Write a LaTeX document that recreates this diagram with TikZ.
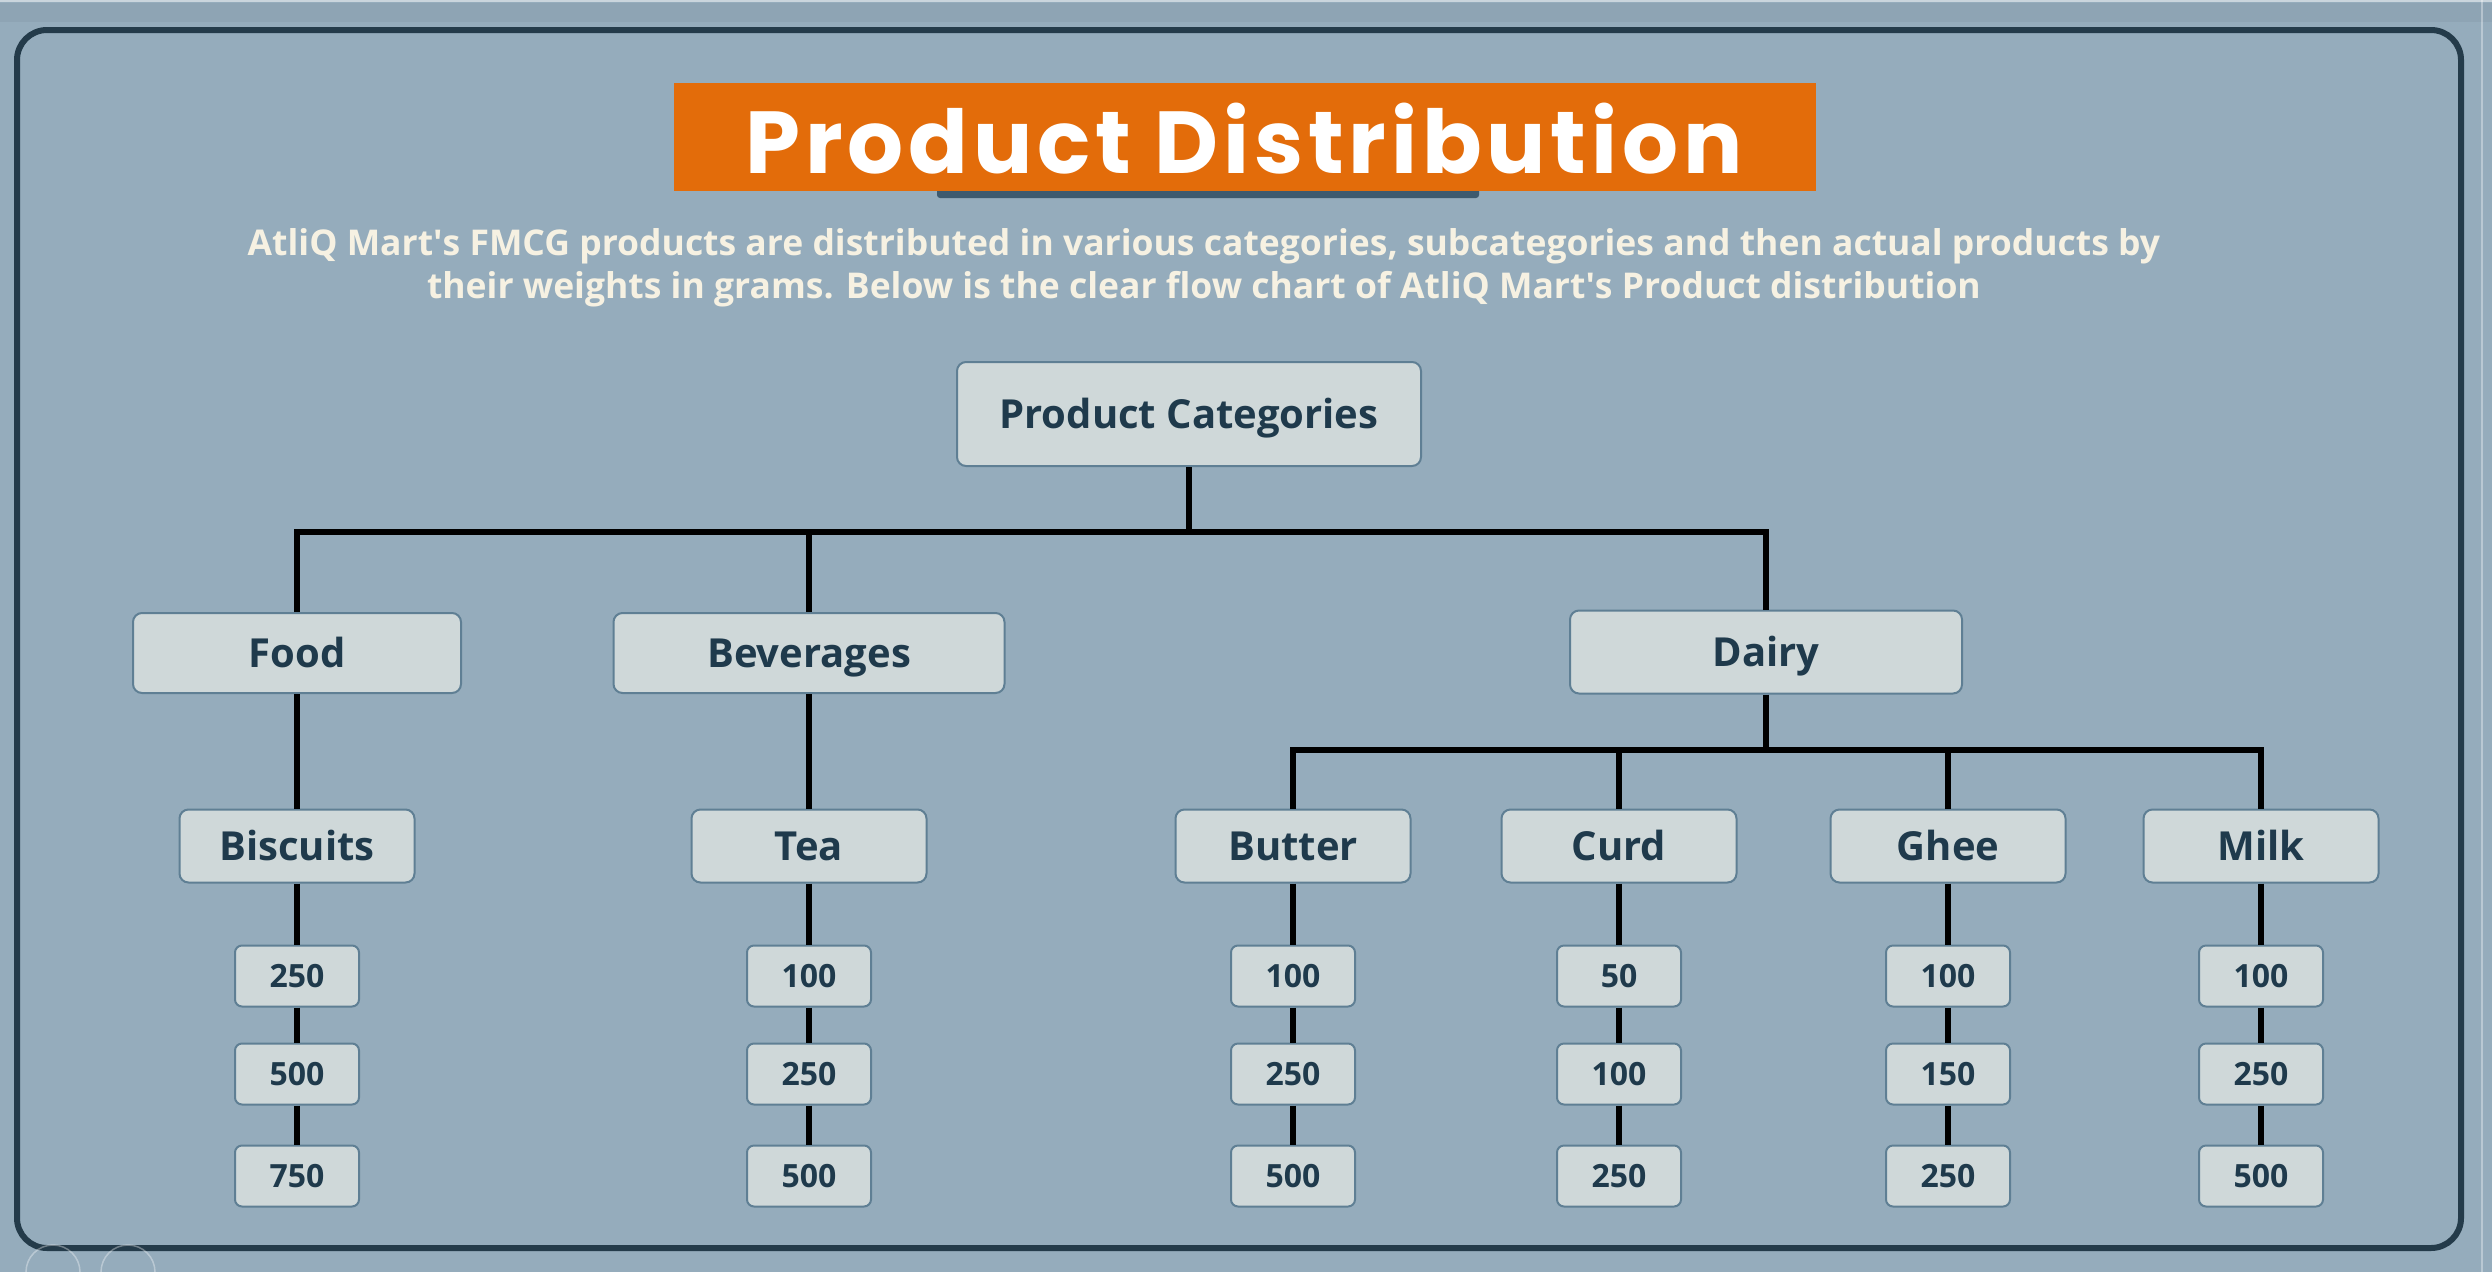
\documentclass[tikz,border=0pt]{standalone}
\usepackage{fontspec}
\setmainfont{Open Sans}
\newfontfamily\titlefont{Poppins}[LetterSpace=5.5]
\definecolor{bg}{HTML}{95ACBC}
\definecolor{frame}{HTML}{243B4A}
\definecolor{orange}{HTML}{E36C0A}
\definecolor{boxfill}{HTML}{CFD8D9}
\definecolor{boxedge}{HTML}{5F7F94}
\definecolor{textdark}{HTML}{1F3A4C}
\definecolor{cream}{HTML}{F6F1E2}
\definecolor{shadowline}{HTML}{3E5A6E}
\newcommand{\ap}{\textquotesingle}
\tikzset{
  box/.style={draw=boxedge, line width=2pt, fill=boxfill, rounded corners=9pt,
    text=textdark, font=\bfseries\fontsize{40}{46}\selectfont, inner sep=0pt,
    text height=28.5pt, text depth=0pt},
  catbox/.style={box, minimum width=#1, minimum height=80pt},
  subbox/.style={box, minimum width=235pt, minimum height=73pt},
  leafbox/.style={box, rounded corners=7pt, minimum width=124pt, minimum height=61pt,
    font=\bfseries\fontsize{32}{36}\selectfont, text height=22.8pt},
  conn/.style={line width=6pt, black},
}
\begin{document}
\begin{tikzpicture}[x=1pt, y=-1pt]
\useasboundingbox (0,0) rectangle (2492,1272);
\fill[bg] (0,0) rectangle (2492,1272);
\fill[bg!92!black, opacity=0.5] (0,3) rectangle (2492,22);
\draw[white, opacity=0.5, line width=2pt] (0,1) -- (2492,1);
\draw[white, opacity=0.35, line width=2pt] (2482,0) -- (2482,1272);
% frame
\draw[frame, line width=6pt, rounded corners=30pt] (17,30) rectangle (2461,1248);
% title
\fill[shadowline, rounded corners=3pt] (937,186) rectangle (1479,198);
\node[fill=orange, minimum width=1142pt, minimum height=108pt, inner sep=0pt] (title) at (1245,137) {};
\node[text=white, font=\titlefont\bfseries\fontsize{88}{100}\selectfont, inner sep=0pt] (titletext) at (1244,139) {Product Distribution};
% subtitle
\node[text=cream, font=\bfseries\fontsize{35.5}{43}\selectfont, align=center, inner sep=0pt] (sub) at (1204,268)
 {AtliQ Mart\ap s FMCG products are distributed in various categories, subcategories and then actual products by\\
  their weights in grams. Below is the clear flow chart of AtliQ Mart\ap s Product distribution};
% bottom-left faint icons
\draw[white, opacity=0.35, line width=1.5pt] (53,1272) circle (27);
\draw[white, opacity=0.35, line width=1.5pt] (128,1272) circle (27);
% root
\node[box, minimum width=464pt, minimum height=104pt] (pc) at (1189,414) {Product Categories};
% categories
\node[catbox=328pt] (food) at (297,653) {Food};
\node[catbox=391pt] (bev) at (809,653) {Beverages};
\node[catbox=392pt, minimum height=83pt] (dairy) at (1766,652) {Dairy};
% subcategories
\node[subbox] (bis) at (297,846) {Biscuits};
\node[subbox] (tea) at (809,846) {Tea};
\node[subbox] (but) at (1293,846) {Butter};
\node[subbox] (curd) at (1619,846) {Curd};
\node[subbox] (ghee) at (1948,846) {Ghee};
\node[subbox] (milk) at (2261,846) {Milk};
% leaves
\foreach \n/\x/\a/\b/\c in {bis/297/250/500/750, tea/809/100/250/500, but/1293/100/250/500,
  curd/1619/50/100/250, ghee/1948/100/150/250, milk/2261/100/250/500}{
  \node[leafbox] (\n1) at (\x,976) {\a};
  \node[leafbox] (\n2) at (\x,1074) {\b};
  \node[leafbox] (\n3) at (\x,1176) {\c};
  \draw[conn] (\n.south) -- (\n1.north);
  \draw[conn] (\n1.south) -- (\n2.north);
  \draw[conn] (\n2.south) -- (\n3.north);
}
% connectors
\coordinate (b1) at (0,532);
\coordinate (b2) at (0,750);
\draw[conn] (pc.south) -- (pc.south |- b1);
\draw[conn] (food.north) |- (pc.south |- b1) -| (dairy.north);
\draw[conn] (bev.north) -- (bev.north |- b1);
\draw[conn] (food.south) -- (bis.north);
\draw[conn] (bev.south) -- (tea.north);
\draw[conn] (dairy.south) -- (dairy.south |- b2);
\draw[conn] (but.north) |- (dairy.south |- b2) -| (milk.north);
\draw[conn] (curd.north) -- (curd.north |- b2);
\draw[conn] (ghee.north) -- (ghee.north |- b2);
\end{tikzpicture}
\end{document}
